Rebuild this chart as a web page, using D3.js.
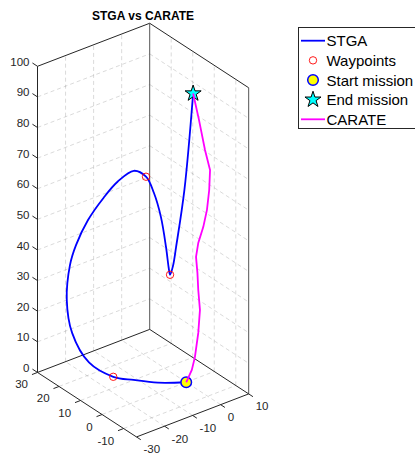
<!DOCTYPE html>
<html>
<head>
<meta charset="utf-8">
<script src="https://cdn.jsdelivr.net/npm/d3@7"></script>
<style>
    body { margin: 0; background: #fff; }
    svg { display: block; font-family: "Liberation Sans", Arial, sans-serif; }
</style>
</head>
<body>
<svg width="415" height="456"></svg>
<script>
/*global d3 */
"use strict";

// axis limits and ticks
var xLim = [-30, 10];
var yLim = [-16, 30];
var zLim = [0, 100];
var xTicks = [-30, -20, -10, 0, 10];
var yTicks = [-10, 0, 10, 20, 30];
var zTicks = [0, 10, 20, 30, 40, 50, 60, 70, 80, 90, 100];

// STGA trajectory
var stgaX = [0, -6.5, -11.1, -14.5, -20.4, -23.8, -24.4, -23.4, -21.8,
    -18.9, -15.7, -12.9, -9.8, -7.2, -5.7, -4.5, -3.6, -3.1, -3.0, -2.4,
    -1.3, 1.2, 4];
var stgaY = [0, 4.7, 9.9, 15, 18.6, 22.0, 23.7, 23.5, 22.8, 21.0, 17.9,
    15.1, 11.6, 9.3, 7.6, 5.9, 4.7, 4.1, 3.6, 3.0, 3.0, 2.4, 2];
var stgaZ = [0, 0, 0.1, 0, 5.1, 14.4, 24.6, 35.8, 42.0, 50.0, 57.6, 63.1,
    67.2, 65.4, 60.4, 52.9, 43.3, 36.6, 34.5, 37.5, 43.3, 61.3, 92];

// CARATE trajectory
var carateX = [0, 0.4, 2.0, 3.1, 4.3, 4.9, 4.3, 4.0, 3.5, 4.3, 6.1, 7.4,
    8.2, 8.5, 6.7, 4.9, 4];
var carateY = [0, 0, 0, 0, 0, 0, 0, 0, 0, 0, 0, 0, 0, 0, 0, 0.5, 2];
var carateZ = [0, 0.6, 3.3, 7.1, 14.6, 21.9, 28.6, 34.3, 39.7, 44.0, 48.6,
    53.7, 59.9, 66.3, 73.5, 83.9, 92];

var waypointX = [-14.5, -7.2, -3.0];
var waypointY = [15, 9.3, 3.6];
var waypointZ = [0, 65.4, 34.5];

var startPoint = [0, 0, 0];
var endPoint = [4, 2, 92];

var legendLabels = ["STGA", "Waypoints", "Start mission", "End mission",
    "CARATE"];

var axisColor = "#262626";
var svg = d3.select("svg");

// MATLAB default view(3)
var az = -37.5 * Math.PI / 180;
var el = 30 * Math.PI / 180;
var k = 3.535; // px per data unit
var cx = 143.1;
var cy = 230.1;

var xScale = d3.scaleLinear().domain(xLim)
    .range([-(xLim[1] - xLim[0]) / 2 * k, (xLim[1] - xLim[0]) / 2 * k]);
var yScale = d3.scaleLinear().domain(yLim)
    .range([-(yLim[1] - yLim[0]) / 2 * k, (yLim[1] - yLim[0]) / 2 * k]);
var zScale = d3.scaleLinear().domain(zLim)
    .range([-(zLim[1] - zLim[0]) / 2 * k, (zLim[1] - zLim[0]) / 2 * k]);

var project = function (p) {
    var u = xScale(p[0]);
    var v = yScale(p[1]);
    var w = zScale(p[2]);
    return [
        cx + Math.cos(az) * u + Math.sin(az) * v,
        cy - (-Math.sin(el) * Math.sin(az) * u +
                Math.sin(el) * Math.cos(az) * v + Math.cos(el) * w)
    ];
};

var zip = function (xs, ys, zs) {
    return xs.map(function (x, i) {
        return [x, ys[i], zs[i]];
    });
};

var seg = function (g, a, b) {
    var pa = project(a);
    var pb = project(b);
    return g.append("line")
        .attr("x1", pa[0]).attr("y1", pa[1])
        .attr("x2", pb[0]).attr("y2", pb[1]);
};

// grid
var grid = svg.append("g")
    .attr("stroke", axisColor)
    .attr("stroke-opacity", 0.17)
    .attr("stroke-dasharray", "4,3")
    .attr("fill", "none");

xTicks.slice(1, -1).forEach(function (x) {
    seg(grid, [x, yLim[0], 0], [x, yLim[1], 0]);
    seg(grid, [x, yLim[1], zLim[0]], [x, yLim[1], zLim[1]]);
});
yTicks.slice(0, -1).forEach(function (y) {
    seg(grid, [xLim[0], y, 0], [xLim[1], y, 0]);
    seg(grid, [xLim[1], y, zLim[0]], [xLim[1], y, zLim[1]]);
});
zTicks.slice(1, -1).forEach(function (z) {
    seg(grid, [xLim[0], yLim[1], z], [xLim[1], yLim[1], z]);
    seg(grid, [xLim[1], yLim[1], z], [xLim[1], yLim[0], z]);
});

// box and axes
var box = svg.append("g").attr("stroke", axisColor).attr("stroke-width", 1);
var x0 = xLim[0], x1 = xLim[1], y0 = yLim[0], y1 = yLim[1];
var z0 = zLim[0], z1 = zLim[1];
seg(box, [x0, y1, z0], [x0, y1, z1]);
seg(box, [x0, y1, z1], [x1, y1, z1]);
seg(box, [x1, y1, z1], [x1, y0, z1]);
seg(box, [x1, y1, z0], [x1, y1, z1]).attr("stroke", "#555");
seg(box, [x1, y0, z0], [x1, y0, z1]).attr("stroke", "#555");
seg(box, [x0, y1, z0], [x1, y1, z0]);
seg(box, [x1, y1, z0], [x1, y0, z0]);
seg(box, [x0, y1, z0], [x0, y0, z0]);
seg(box, [x0, y0, z0], [x1, y0, z0]);

var tickLen = 7 / k;
var labels = svg.append("g")
    .attr("fill", axisColor)
    .attr("font-size", "11.5px");

zTicks.forEach(function (z) {
    seg(box, [x0, y1, z], [x0, y1 + tickLen / 0.84, z]);
    var p = project([x0, y1, z]);
    labels.append("text")
        .attr("x", p[0] - 8)
        .attr("y", p[1] - 3.5)
        .attr("text-anchor", "end")
        .attr("dominant-baseline", "middle")
        .text(z);
});
xTicks.forEach(function (x) {
    seg(box, [x, y0, z0], [x, y0 - tickLen, z0]);
    var p = project([x, y0, z0]);
    labels.append("text")
        .attr("x", p[0] + 7)
        .attr("y", p[1] + 13.5)
        .attr("dominant-baseline", "middle")
        .text(x);
});
yTicks.forEach(function (y) {
    seg(box, [x0, y, z0], [x0 - tickLen, y, z0]);
    var p = project([x0, y, z0]);
    labels.append("text")
        .attr("x", p[0] - 9.5)
        .attr("y", p[1] + 13)
        .attr("text-anchor", "end")
        .attr("dominant-baseline", "middle")
        .text(y);
});

// title
svg.append("text")
    .attr("x", 143)
    .attr("y", 19.5)
    .attr("text-anchor", "middle")
    .attr("font-weight", "bold")
    .attr("font-size", "12px")
    .attr("fill", "#000")
    .text("STGA vs CARATE");

// data
var line3 = d3.line()
    .x(function (d) {
        return project(d)[0];
    })
    .y(function (d) {
        return project(d)[1];
    });

svg.append("path")
    .datum(zip(stgaX, stgaY, stgaZ))
    .attr("fill", "none")
    .attr("stroke", "#0000ff")
    .attr("stroke-width", 1.8)
    .attr("d", line3.curve(d3.curveCatmullRom.alpha(0.5)));

svg.append("g").selectAll("circle")
    .data(zip(waypointX, waypointY, waypointZ))
    .join("circle")
    .attr("cx", function (d) {
        return project(d)[0];
    })
    .attr("cy", function (d) {
        return project(d)[1];
    })
    .attr("r", 3.7)
    .attr("fill", "none")
    .attr("stroke", "#ff0000")
    .attr("stroke-width", 0.9);

var ps = project(startPoint);
svg.append("circle")
    .attr("cx", ps[0]).attr("cy", ps[1]).attr("r", 5.3)
    .attr("fill", "#ffff00")
    .attr("stroke", "#0000ff")
    .attr("stroke-width", 1.5);

var star = d3.symbol().type(d3.symbolStar).size(80);
var pe = project(endPoint);
svg.append("path")
    .attr("transform", "translate(" + pe[0] + "," + pe[1] + ")")
    .attr("d", star())
    .attr("fill", "#00ffff")
    .attr("stroke", "#000")
    .attr("stroke-width", 1);

svg.append("path")
    .datum(zip(carateX, carateY, carateZ))
    .attr("fill", "none")
    .attr("stroke", "#ff00ff")
    .attr("stroke-width", 1.8)
    .attr("d", line3.curve(d3.curveLinear));

// legend
var legend = svg.append("g").attr("transform", "translate(298,27)");
legend.append("rect")
    .attr("x", 0.5).attr("y", 0.5)
    .attr("width", 130).attr("height", 101)
    .attr("fill", "#fff")
    .attr("stroke", axisColor)
    .attr("stroke-width", 1);

var rowY = function (i) {
    return 13.7 + i * 19.65;
};

legend.append("line")
    .attr("x1", 3).attr("x2", 27).attr("y1", rowY(0)).attr("y2", rowY(0))
    .attr("stroke", "#0000ff").attr("stroke-width", 1.8);
legend.append("circle")
    .attr("cx", 15).attr("cy", rowY(1)).attr("r", 3.7)
    .attr("fill", "none").attr("stroke", "#ff0000")
    .attr("stroke-width", 0.9);
legend.append("circle")
    .attr("cx", 15).attr("cy", rowY(2)).attr("r", 5.3)
    .attr("fill", "#ffff00").attr("stroke", "#0000ff")
    .attr("stroke-width", 1.5);
legend.append("path")
    .attr("transform", "translate(15," + rowY(3) + ")")
    .attr("d", star())
    .attr("fill", "#00ffff").attr("stroke", "#000").attr("stroke-width", 1);
legend.append("line")
    .attr("x1", 3).attr("x2", 27).attr("y1", rowY(4)).attr("y2", rowY(4))
    .attr("stroke", "#ff00ff").attr("stroke-width", 1.8);

legend.selectAll("text")
    .data(legendLabels)
    .join("text")
    .attr("x", 28.5)
    .attr("y", function (ignore, i) {
        return rowY(i);
    })
    .attr("dominant-baseline", "central")
    .attr("font-size", "15px")
    .attr("fill", "#000")
    .text(function (d) {
        return d;
    });
</script>
</body>
</html>
